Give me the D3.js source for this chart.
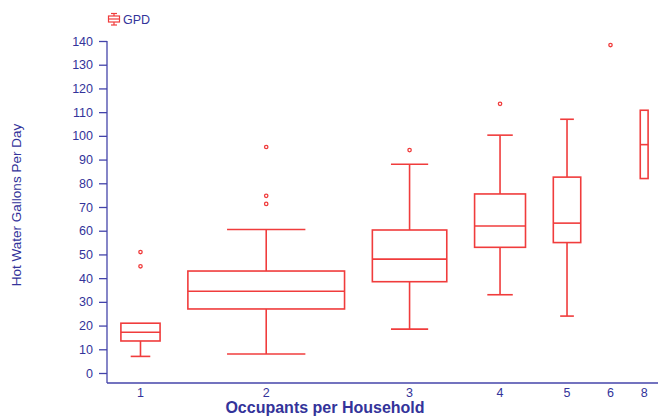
<!DOCTYPE html>
<html>
<head>
<meta charset="utf-8">
<script src="https://cdn.jsdelivr.net/npm/d3@7"></script>
<style>
  body { margin: 0; background: #fff; }
  text { font-family: "Liberation Sans", Arial, sans-serif; fill: #33339a; }
  .tick text { font-size: 12.5px; }
  .axis path, .axis line { stroke: #4444aa; stroke-width: 1.3; }
</style>
</head>
<body>
<div id="chart"></div>
<script>
const width = 658;
const height = 418;

// occupants per household (categories) and sample counts (box widths)
const categories = ["1", "2", "3", "4", "5", "6", "8"];
const counts     = [10, 40, 19, 13, 7, 1, 2];

// five number summaries, gallons per day
const lowWhisker  = [7, 8, 18.5, 33, 24, null, 82];
const q1          = [13.5, 27, 38.5, 53, 55, null, 82];
const medians     = [17.2, 34.5, 48, 62, 63.2, null, 96.3];
const q3          = [21, 43, 60.3, 75.5, 82.6, null, 110.8];
const highWhisker = [21, 60.5, 88, 100.3, 107, null, 110.8];
const outliers    = [[45, 51], [71.3, 74.7, 95.3], [94], [113.5], [], [138.3], []];

const yTicks = d3.range(0, 141, 10);

const margin = { top: 41, right: 0, bottom: 45, left: 107 };
const red = "#f03c3c";

const svg = d3.select("#chart").append("svg")
   .attr("width", width)
   .attr("height", height);

const y = d3.scaleLinear()
   .domain([0, 140])
   .range([373, margin.top]);

// variable width layout: each group takes its count plus a gap, in count units
const gapUnits = 7.1;
let starts = [];
let acc = gapUnits / 2;
counts.forEach(c => { starts.push(acc); acc += c + gapUnits; });
const totalUnits = acc - gapUnits / 2;

// plot runs a little past the right edge of the window
const x = d3.scaleLinear()
   .domain([0, totalUnits])
   .range([margin.left, 662]);

const groups = categories.map((c, i) => ({
   cat: c,
   x0: x(starts[i]),
   x1: x(starts[i] + counts[i]),
   cx: x(starts[i] + counts[i] / 2),
   lo: lowWhisker[i], q1: q1[i], med: medians[i], q3: q3[i], hi: highWhisker[i],
   out: outliers[i]
}));

// y axis
svg.append("g")
   .attr("class", "axis")
   .attr("transform", `translate(${margin.left},0)`)
   .call(d3.axisLeft(y).tickValues(yTicks).tickSize(8).tickPadding(6).tickSizeOuter(0))
   .call(g => g.select(".domain").attr("d", `M0,${y(140)}V383`));

// x axis line
svg.append("line")
   .attr("x1", margin.left).attr("x2", width)
   .attr("y1", 383).attr("y2", 383)
   .attr("stroke", "#4444aa").attr("stroke-width", 1.3);

svg.selectAll("text.xlab")
   .data(groups)
   .enter()
   .append("text")
   .attr("class", "xlab")
   .attr("x", d => d.cx)
   .attr("y", 397)
   .style("text-anchor", "middle")
   .style("font-size", "12.5px")
   .text(d => d.cat);

// titles
svg.append("text")
   .attr("x", 325).attr("y", 413)
   .style("text-anchor", "middle")
   .style("font-size", "16px")
   .style("font-weight", "bold")
   .text("Occupants per Household");

svg.append("text")
   .attr("transform", "translate(21,205) rotate(-90)")
   .style("text-anchor", "middle")
   .style("font-size", "13.5px")
   .text("Hot Water Gallons Per Day");

// boxes
const boxes = svg.append("g")
   .attr("fill", "none")
   .attr("stroke", red)
   .attr("stroke-width", 1.6);

groups.filter(d => d.med != null).forEach(d => {
   const w = d.x1 - d.x0;
   if (d.lo < d.q1) {
      boxes.append("line").attr("x1", d.cx).attr("x2", d.cx).attr("y1", y(d.lo)).attr("y2", y(d.q1));
      boxes.append("line").attr("x1", d.cx - w / 4).attr("x2", d.cx + w / 4).attr("y1", y(d.lo)).attr("y2", y(d.lo));
   }
   if (d.hi > d.q3) {
      boxes.append("line").attr("x1", d.cx).attr("x2", d.cx).attr("y1", y(d.hi)).attr("y2", y(d.q3));
      boxes.append("line").attr("x1", d.cx - w / 4).attr("x2", d.cx + w / 4).attr("y1", y(d.hi)).attr("y2", y(d.hi));
   }
   boxes.append("rect")
      .attr("x", d.x0).attr("y", y(d.q3))
      .attr("width", w).attr("height", y(d.q1) - y(d.q3));
   boxes.append("line")
      .attr("x1", d.x0).attr("x2", d.x1)
      .attr("y1", y(d.med)).attr("y2", y(d.med));
});

// outliers
groups.forEach(d => {
   boxes.selectAll(null)
      .data(d.out)
      .enter()
      .append("circle")
      .attr("cx", d.cx)
      .attr("cy", v => y(v))
      .attr("r", 1.7)
      .attr("stroke-width", 1.3);
});

// legend
const lg = svg.append("g").attr("fill", "none").attr("stroke", red).attr("stroke-width", 1.2);
lg.append("line").attr("x1", 111).attr("x2", 117).attr("y1", 13.5).attr("y2", 13.5);
lg.append("line").attr("x1", 111).attr("x2", 117).attr("y1", 25).attr("y2", 25);
lg.append("line").attr("x1", 114).attr("x2", 114).attr("y1", 13.5).attr("y2", 25);
lg.append("rect").attr("x", 108.5).attr("y", 16).attr("width", 11).attr("height", 6).attr("fill", "#fff");
lg.append("line").attr("x1", 108.5).attr("x2", 119.5).attr("y1", 19).attr("y2", 19);
svg.append("text")
   .attr("x", 123).attr("y", 23.5)
   .style("font-size", "12.5px")
   .text("GPD");
</script>
</body>
</html>
